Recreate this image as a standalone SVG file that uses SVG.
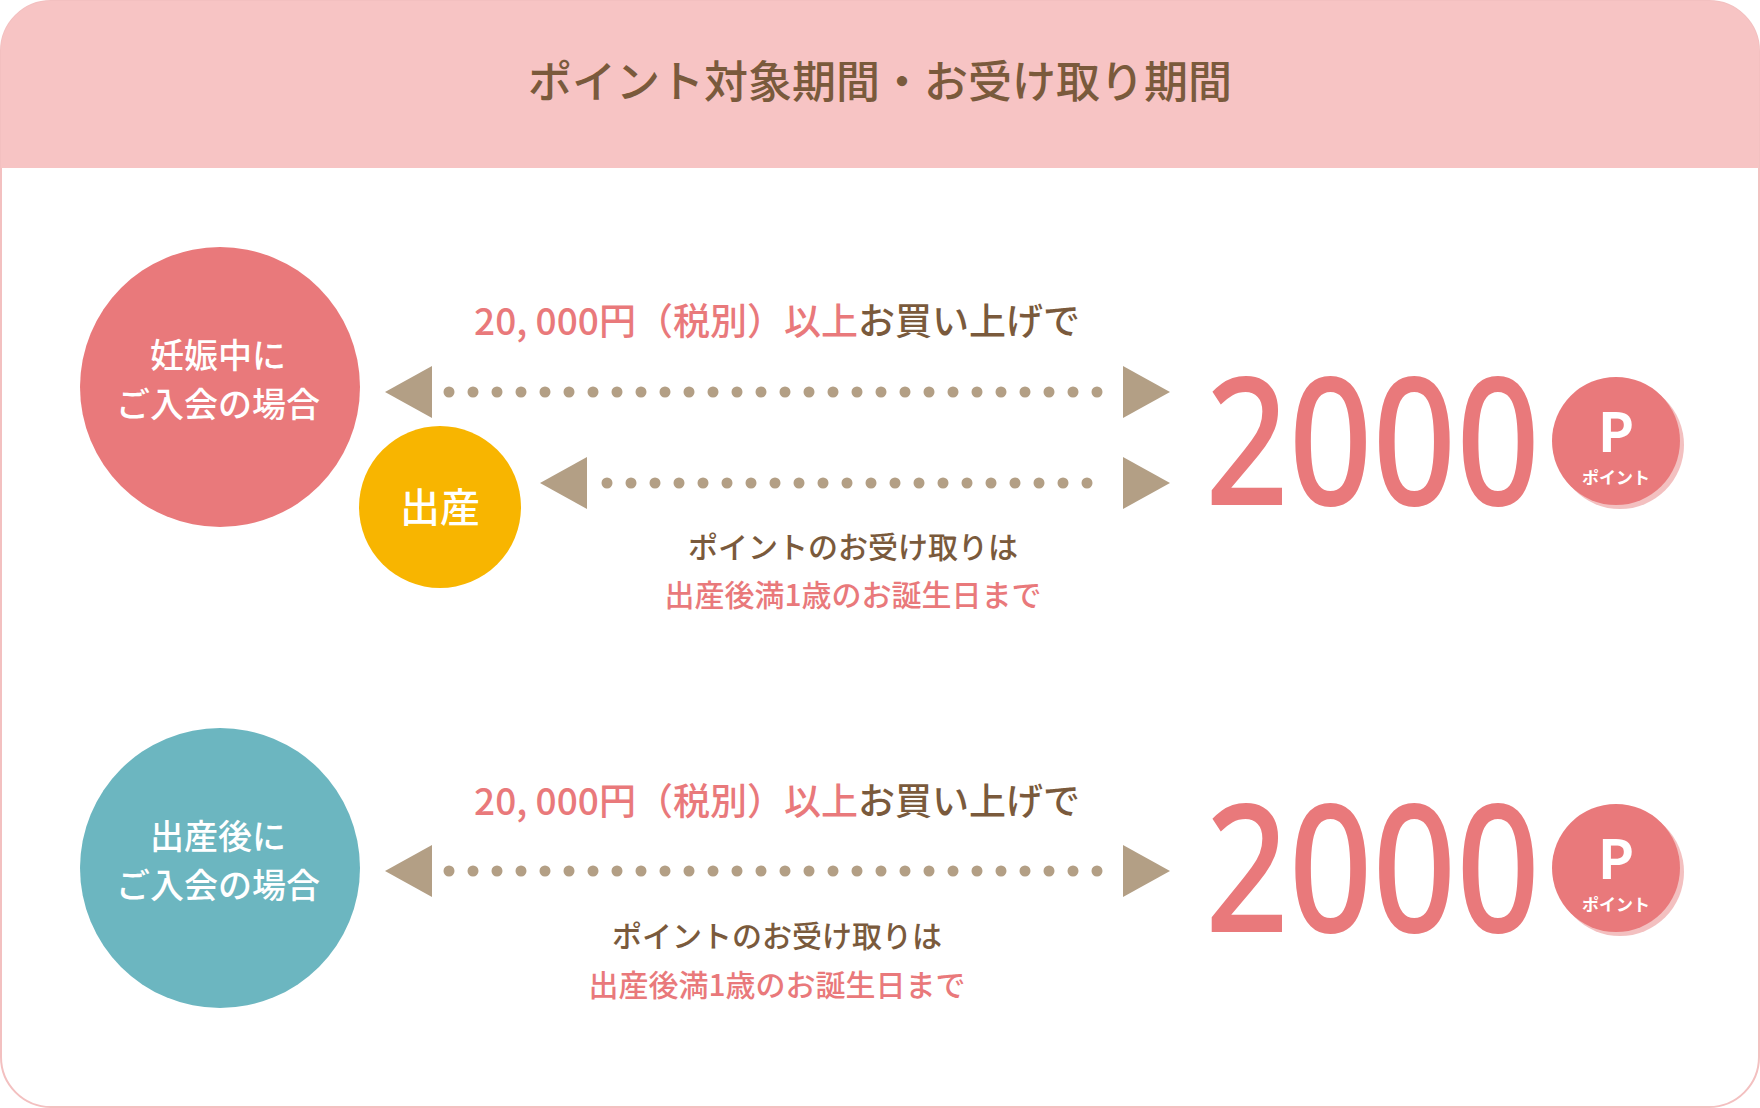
<svg xmlns="http://www.w3.org/2000/svg" width="1760" height="1108" viewBox="0 0 1760 1108">
<style>
text{font-family:"Noto Sans CJK JP","Noto Sans",sans-serif;text-anchor:middle}
.w{fill:#fff}.b{fill:#7a5a3c}.p{fill:#e9797b}
.dot{fill:#b39f85}
.dl{stroke:#b39f85;stroke-width:11;stroke-linecap:round;stroke-dasharray:0 24;fill:none}
.big{font-family:"Noto Sans","Noto Sans CJK JP",sans-serif;font-size:178px;font-weight:500;fill:#e9797b;text-anchor:start}
</style>
<defs>
<clipPath id="c"><rect x="1" y="1" width="1758" height="1106" rx="50"/></clipPath>
</defs>
<rect x="1" y="1" width="1758" height="1106" rx="50" fill="#fff" stroke="#f3c0c0" stroke-width="2"/>
<rect x="0" y="0" width="1760" height="168" fill="#f7c4c4" clip-path="url(#c)"/>
<text x="880" y="98" font-size="44" class="b" font-weight="500">ポイント対象期間・お受け取り期間</text>
<g id="connectors">
<polygon points="385,392 432,366 432,418" class="dot"/>
<polygon points="1170,392 1123,366 1123,418" class="dot"/>
<line x1="449" y1="392" x2="1107" y2="392" class="dl"/>
<polygon points="540,483 587,457 587,509" class="dot"/>
<polygon points="1170,483 1123,457 1123,509" class="dot"/>
<line x1="607" y1="483" x2="1091" y2="483" class="dl"/>
<polygon points="385,871 432,845 432,897" class="dot"/>
<polygon points="1170,871 1123,845 1123,897" class="dot"/>
<line x1="449" y1="871" x2="1107" y2="871" class="dl"/>
</g>
<g id="node-pregnant"><circle cx="220" cy="387" r="140" fill="#e9797b"/>
<text x="218" y="368" font-size="34" class="w" font-weight="500">妊娠中に</text><text x="218" y="417" font-size="34" class="w" font-weight="500">ご入会の場合</text></g>
<g id="node-birth"><circle cx="440" cy="507" r="81" fill="#f8b500"/><text x="440" y="522" font-size="40" class="w" font-weight="500">出産</text></g>
<g id="node-after"><circle cx="220" cy="868" r="140" fill="#6cb6c0"/>
<text x="218" y="849" font-size="34" class="w" font-weight="500">出産後に</text><text x="218" y="898" font-size="34" class="w" font-weight="500">ご入会の場合</text></g>
<g id="label1"><text x="777" y="335" font-size="37" font-weight="500"><tspan class="p">20, 000円（税別）以上</tspan><tspan class="b">お買い上げで</tspan></text>
<text x="853" y="558" font-size="30" class="b" font-weight="500">ポイントのお受け取りは</text><text x="853" y="606" font-size="30" class="p" font-weight="500">出産後満1歳のお誕生日まで</text></g>
<g id="label2"><text x="777" y="815" font-size="37" font-weight="500"><tspan class="p">20, 000円（税別）以上</tspan><tspan class="b">お買い上げで</tspan></text>
<text x="777" y="947" font-size="30" class="b" font-weight="500">ポイントのお受け取りは</text><text x="777" y="996" font-size="30" class="p" font-weight="500">出産後満1歳のお誕生日まで</text></g>
<g id="points1"><text x="1205" y="505" class="big" textLength="335" lengthAdjust="spacingAndGlyphs">2000</text>
<circle cx="1620" cy="445" r="64" fill="#f3c0c0"/><circle cx="1616" cy="441" r="64" fill="#e9797b"/>
<text x="1616" y="452" font-size="54" class="w" font-weight="700">P</text><text x="1616" y="484" font-size="17" class="w" font-weight="700">ポイント</text></g>
<g id="points2"><text x="1205" y="932" class="big" textLength="335" lengthAdjust="spacingAndGlyphs">2000</text>
<circle cx="1620" cy="872" r="64" fill="#f3c0c0"/><circle cx="1616" cy="868" r="64" fill="#e9797b"/>
<text x="1616" y="879" font-size="54" class="w" font-weight="700">P</text><text x="1616" y="911" font-size="17" class="w" font-weight="700">ポイント</text></g>
</svg>
